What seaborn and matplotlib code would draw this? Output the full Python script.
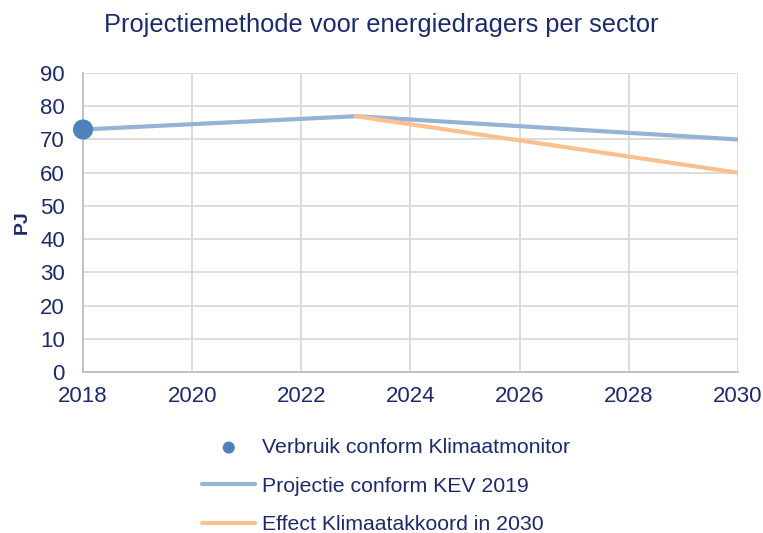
import matplotlib
matplotlib.use('Agg')
import matplotlib.pyplot as plt
import numpy as np
import pandas as pd
import seaborn as sns

# data
jaren_monitor = [2018]
verbruik_monitor = [73]
jaren_kev = [2018, 2023, 2030]
projectie_kev = [73, 77, 70]
jaren_akkoord = [2023, 2030]
effect_akkoord = [77, 60]

navy = '#1B2A6B'
grid_c = '#D9D9D9'

sns.set_theme(style='white')
plt.rcParams['font.family'] = ['Liberation Sans', 'DejaVu Sans']

fig = plt.figure(figsize=(7.63, 5.33), dpi=100)
ax = fig.add_axes([0.1088, 0.302, 0.8584, 0.561])

df_kev = pd.DataFrame({'jaar': jaren_kev, 'PJ': projectie_kev})
df_akk = pd.DataFrame({'jaar': jaren_akkoord, 'PJ': effect_akkoord})
df_mon = pd.DataFrame({'jaar': jaren_monitor, 'PJ': verbruik_monitor})

sns.lineplot(data=df_kev, x='jaar', y='PJ', ax=ax, color='#95B3D7', lw=3,
             label='Projectie conform KEV 2019', zorder=3)
sns.lineplot(data=df_akk, x='jaar', y='PJ', ax=ax, color='#FAC090', lw=3,
             label='Effect Klimaatakkoord in 2030', zorder=4)
sns.scatterplot(data=df_mon, x='jaar', y='PJ', ax=ax, color='#4F81BD', s=210,
                edgecolor='none', label='Verbruik conform Klimaatmonitor',
                zorder=5, clip_on=False)

ax.set_xlim(2018, 2030)
ax.set_ylim(0, 90)
ax.set_xticks(np.arange(2018, 2031, 2))
ax.set_yticks(np.arange(0, 91, 10))
ax.grid(True, color=grid_c, lw=1.3)
ax.set_axisbelow(True)
for s in ['top', 'right']:
    ax.spines[s].set_visible(False)
for s in ['left', 'bottom']:
    ax.spines[s].set_color('#BFBFBF')
    ax.spines[s].set_linewidth(1.3)
ax.tick_params(axis='both', colors=navy, labelsize=16, length=0)
ax.tick_params(axis='y', pad=13)
ax.tick_params(axis='x', pad=10)
ax.set_xlabel('')
ax.set_ylabel('PJ', color=navy, fontsize=14, fontweight='bold', labelpad=7)
fig.text(0.5, 0.953, 'Projectiemethode voor energiedragers per sector',
         color=navy, fontsize=18.3, ha='center', va='center')

handles, labels = ax.get_legend_handles_labels()
order = [2, 0, 1]
ax.get_legend().remove()
leg = fig.legend([handles[i] for i in order], [labels[i] for i in order],
                 loc='upper left', bbox_to_anchor=(0.265, 0.178), frameon=False,
                 fontsize=15.3, labelcolor=navy, handlelength=2.5, borderpad=0,
                 borderaxespad=0, handletextpad=0.3, labelspacing=0.92,
                 markerscale=0.6)

fig.savefig('out.png', dpi=100)
